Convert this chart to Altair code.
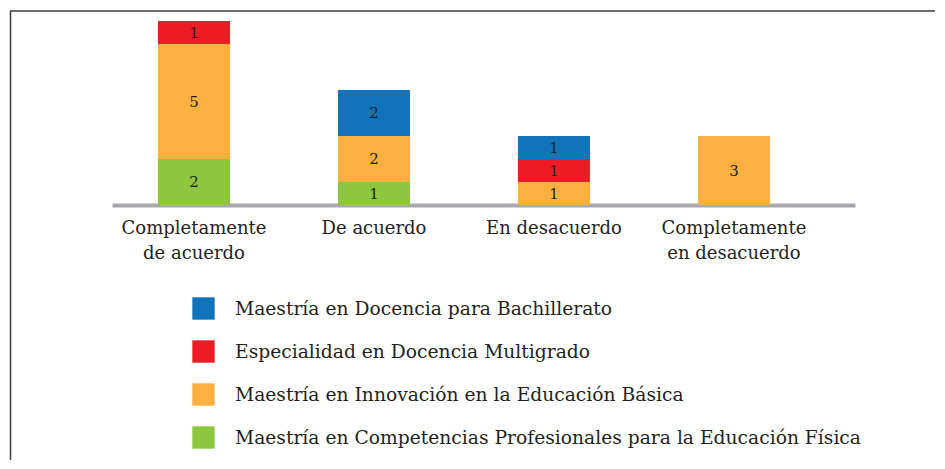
import altair as alt
import pandas as pd

categorias = ["Completamente|de acuerdo", "De acuerdo", "En desacuerdo", "Completamente|en desacuerdo"]
programas = [
    "Maestría en Docencia para Bachillerato",
    "Especialidad en Docencia Multigrado",
    "Maestría en Innovación en la Educación Básica",
    "Maestría en Competencias Profesionales para la Educación Física",
]
colores = ["#1173BA", "#EE1D25", "#FBB040", "#8DC63F"]
bachillerato = [0, 2, 1, 0]
multigrado = [1, 0, 1, 0]
innovacion = [5, 2, 1, 3]
competencias = [2, 1, 0, 0]

series = [bachillerato, multigrado, innovacion, competencias]
rows = []
for si, (prog, vals) in enumerate(zip(programas, series)):
    for ci, (cat, v) in enumerate(zip(categorias, vals)):
        rows.append({"cat": cat, "prog": prog, "valor": v, "orden": 3 - si})
df = pd.DataFrame(rows)

W, H = 743, 184
PL, PT = 104, 13
FONT = "DejaVu Serif"
TXT = "#231F20"

base = alt.Chart(df).transform_filter("datum.valor > 0").transform_stack(
    stack="valor", as_=["y0", "y1"], groupby=["cat"], sort=[alt.SortField("orden")]
).transform_calculate(mid="(datum.y0 + datum.y1) / 2")

xenc = alt.X(
    "cat:N",
    sort=categorias,
    scale=alt.Scale(paddingInner=0.6, paddingOuter=0.364, align=0.351),
    axis=alt.Axis(
        title=None,
        labelAngle=0,
        labelExpr="split(datum.label, '|')",
        labelFont=FONT,
        labelFontSize=18,
        labelColor=TXT,
        labelPadding=14,
        labelLineHeight=25,
        labelBaseline="top",
        ticks=False,
        domainColor="#A7A9AC",
        domainWidth=4,
        labelLimit=300,
    ),
)
yscale = alt.Scale(domain=[0, 8], nice=False, zero=True)

bars = base.mark_bar().encode(
    x=xenc,
    y=alt.Y("y0:Q", scale=yscale, axis=None),
    y2="y1:Q",
    color=alt.Color(
        "prog:N",
        scale=alt.Scale(domain=programas, range=colores),
        sort=programas,
        legend=alt.Legend(
            title=None,
            orient="none",
            legendX=80,
            legendY=276,
            symbolType="square",
            symbolSize=500,
            symbolStrokeWidth=0,
            symbolOpacity=1,
            labelFont=FONT,
            labelFontSize=18.7,
            labelColor=TXT,
            labelOffset=20,
            rowPadding=20,
            labelLimit=800,
            padding=0,
        ),
    ),
)

texts = base.mark_text(font=FONT, fontSize=15, color=TXT, baseline="middle").encode(
    x=alt.X("cat:N", sort=categorias),
    y=alt.Y("mid:Q", scale=yscale),
    text="valor:Q",
)

TOTAL_W, TOTAL_H = 945 - 16, 469 - 16
frame_top = alt.Chart(pd.DataFrame({"a": [0]})).mark_rule(color="#3C3C3C", strokeWidth=1.5).encode(
    x=alt.value(10 - 8 - PL), x2=alt.value(TOTAL_W - PL - 2), y=alt.value(11 - 8 - PT)
)
frame_left = alt.Chart(pd.DataFrame({"a": [0]})).mark_rule(color="#3C3C3C", strokeWidth=1.5).encode(
    x=alt.value(10.5 - 8 - PL), y=alt.value(11 - 8 - PT), y2=alt.value(TOTAL_H - PT - 1)
)

chart = alt.layer(bars, texts, frame_top, frame_left).properties(
    width=W,
    height=H,
    background="white",
    autosize=alt.AutoSizeParams(type="none"),
    padding={"left": PL, "top": PT, "right": TOTAL_W - W - PL, "bottom": TOTAL_H - H - PT},
).configure_view(strokeWidth=0)

chart.save("out.html", embed_options={"renderer": "svg", "actions": False})
